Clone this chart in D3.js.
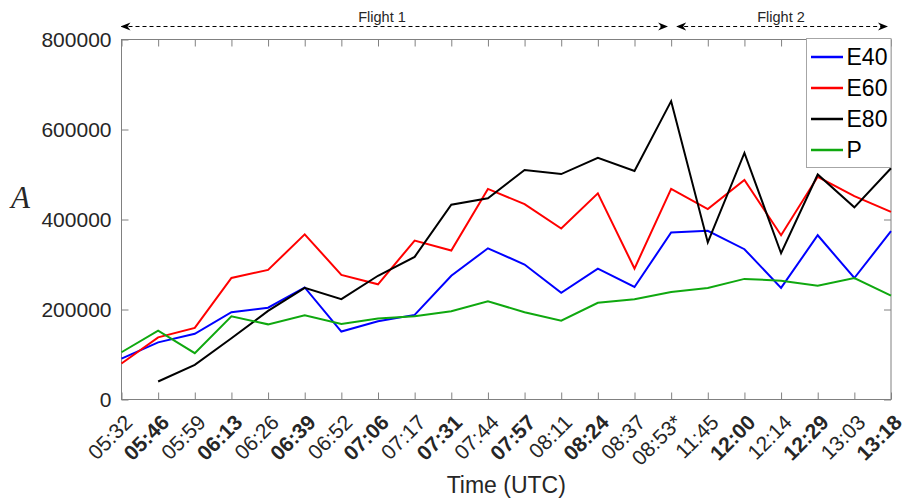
<!DOCTYPE html>
<html>
<head>
<meta charset="utf-8">
<script src="https://cdn.jsdelivr.net/npm/d3@7"></script>
<style>
  html, body { margin: 0; padding: 0; background: #fff; }
  svg { display: block; font-family: "Liberation Sans", Arial, Helvetica, sans-serif; }
</style>
</head>
<body>
<svg id="chart" width="906" height="500"></svg>
<script>
// Sample times (UTC); bold ones are emphasised on the axis
const times = ["05:32","05:46","05:59","06:13","06:26","06:39","06:52","07:06","07:17","07:31","07:44",
               "07:57","08:11","08:24","08:37","08:53*","11:45","12:00","12:14","12:29","13:03","13:18"];
const boldTimes = ["05:46","06:13","06:39","07:06","07:31","07:57","08:24","12:00","12:29","13:18"];

const e40 = [91000,127000,146000,194000,204000,249000,151000,174000,188000,275000,336000,
             300000,237000,291000,250000,371000,375000,334000,248000,365000,270000,374000];
const e60 = [80000,138000,159000,270000,288000,367000,277000,256000,353000,331000,468000,
             434000,380000,458000,291000,468000,423000,488000,365000,495000,452000,417000];
const e80 = [null,40000,77000,136000,197000,248000,223000,275000,317000,433000,447000,
             510000,501000,537000,508000,663000,349000,548000,325000,500000,427000,514000];
const pSeries = [105000,153000,103000,185000,167000,187000,168000,180000,185000,196000,218000,
                 194000,175000,215000,223000,239000,248000,268000,264000,253000,270000,231000];

const seriesNames = ["E40","E60","E80","P"];
const seriesColors = ["#0000ff","#ff0000","#000000","#0fa80f"];
const seriesValues = [e40, e60, e80, pSeries];

const yTicks = [0, 200000, 400000, 600000, 800000];

// Flight spans, given as first/last sample index
const flights = [
  {label: "Flight 1", from: 0, to: 15, textX: 382},
  {label: "Flight 2", from: 15, to: 21, textX: 781}
];

const svg = d3.select("#chart");
const margin = {left: 121.5, right: 15, top: 39.5, bottom: 100.5};
const W = 906, H = 500;
const x0 = margin.left, x1 = W - margin.right;
const y0 = H - margin.bottom, y1 = margin.top;

const x = d3.scalePoint().domain(d3.range(times.length)).range([x0, x1]);
const y = d3.scaleLinear().domain([0, 800000]).range([y0, y1]);

const axisColor = "#808080";
const textColor = "#262626";

// plot frame
svg.append("rect")
  .attr("x", x0).attr("y", y1).attr("width", x1 - x0).attr("height", y0 - y1)
  .attr("fill", "none").attr("stroke", axisColor).attr("stroke-width", 1);

// bottom axis (inward ticks)
const xAxis = d3.axisBottom(x).tickSizeInner(-7).tickSizeOuter(0).tickFormat("");
svg.append("g").attr("transform", `translate(0,${y0})`).call(xAxis)
  .call(g => { g.select(".domain").remove(); g.selectAll("line").attr("stroke", axisColor); });
// top axis ticks
const xTop = d3.axisTop(x).tickSizeInner(-7).tickSizeOuter(0).tickFormat("");
svg.append("g").attr("transform", `translate(0,${y1})`).call(xTop)
  .call(g => { g.select(".domain").remove(); g.selectAll("line").attr("stroke", axisColor); });

// left axis
const yAxis = d3.axisLeft(y).tickValues(yTicks).tickSizeInner(-7).tickSizeOuter(0).tickPadding(10)
  .tickFormat(d3.format("d"));
svg.append("g").attr("transform", `translate(${x0},0)`).call(yAxis)
  .call(g => {
    g.select(".domain").remove();
    g.selectAll("line").attr("stroke", axisColor);
    g.selectAll("text").attr("fill", textColor).style("font-size", "21px")
      .style("font-family", '"Liberation Sans", Arial, sans-serif');
  });
// right axis ticks
const yRight = d3.axisRight(y).tickValues(yTicks).tickSizeInner(-7).tickSizeOuter(0).tickFormat("");
svg.append("g").attr("transform", `translate(${x1},0)`).call(yRight)
  .call(g => { g.select(".domain").remove(); g.selectAll("line").attr("stroke", axisColor); });

// rotated time labels
svg.append("g").selectAll("text").data(times).join("text")
  .attr("transform", (d, i) => `translate(${x(i) + 7},${y0 + 19}) rotate(-45)`)
  .attr("text-anchor", "end")
  .attr("dominant-baseline", "central")
  .attr("fill", textColor)
  .style("font-size", "21px")
  .style("font-weight", d => boldTimes.includes(d) ? "bold" : "normal")
  .text(d => d);

// axis titles
svg.append("text").attr("x", (x0 + x1) / 2).attr("y", 493)
  .attr("text-anchor", "middle").attr("fill", textColor).style("font-size", "23px")
  .text("Time (UTC)");
svg.append("text").attr("x", 11).attr("y", 208)
  .attr("fill", textColor)
  .style("font-family", '"Liberation Serif", "Times New Roman", serif')
  .style("font-style", "italic").style("font-size", "31px")
  .text("A");

// data lines
const line = d3.line().defined(d => d != null).x((d, i) => x(i)).y(d => y(d));
const plot = svg.append("g");
seriesValues.forEach((vals, k) => {
  plot.append("path").datum(vals)
    .attr("d", line)
    .attr("fill", "none").attr("stroke", seriesColors[k])
    .attr("stroke-width", 2).attr("stroke-linejoin", "miter");
});

// flight span arrows
const defs = svg.append("defs");
defs.append("marker").attr("id", "ah").attr("viewBox", "0 0 10 10")
  .attr("refX", 9).attr("refY", 5).attr("markerWidth", 10).attr("markerHeight", 10)
  .attr("markerUnits", "userSpaceOnUse").attr("orient", "auto-start-reverse")
  .append("path").attr("d", "M0,1 L10,5 L0,9 L3,5 Z").attr("fill", "#000");

const arrowY = 26.5;
flights.forEach((f, k) => {
  const xa = x(f.from) + (k === 0 ? 0 : 6);
  const xb = x(f.to) - 4;
  svg.append("line").attr("x1", xa).attr("x2", xb).attr("y1", arrowY).attr("y2", arrowY)
    .attr("stroke", "#000").attr("stroke-width", 1).attr("stroke-dasharray", "4,3")
    .attr("marker-start", "url(#ah)").attr("marker-end", "url(#ah)");
  svg.append("text").attr("x", f.textX).attr("y", 22).attr("text-anchor", "middle")
    .attr("fill", textColor).style("font-size", "14.5px").text(f.label);
});

// legend
const lg = {x: 806.5, y: 38.5, w: 84.5, h: 129};
const legend = svg.append("g");
legend.append("rect").attr("x", lg.x).attr("y", lg.y).attr("width", lg.w).attr("height", lg.h)
  .attr("fill", "#fff").attr("stroke", "#a6a6a6").attr("stroke-width", 1);
seriesNames.forEach((name, k) => {
  const cy = 57 + k * 31;
  legend.append("line").attr("x1", 811).attr("x2", 843).attr("y1", cy).attr("y2", cy)
    .attr("stroke", seriesColors[k]).attr("stroke-width", 2.5);
  legend.append("text").attr("x", 846.5).attr("y", cy).attr("dominant-baseline", "central")
    .attr("fill", "#000").style("font-size", "23px").text(name);
});
</script>
</body>
</html>
